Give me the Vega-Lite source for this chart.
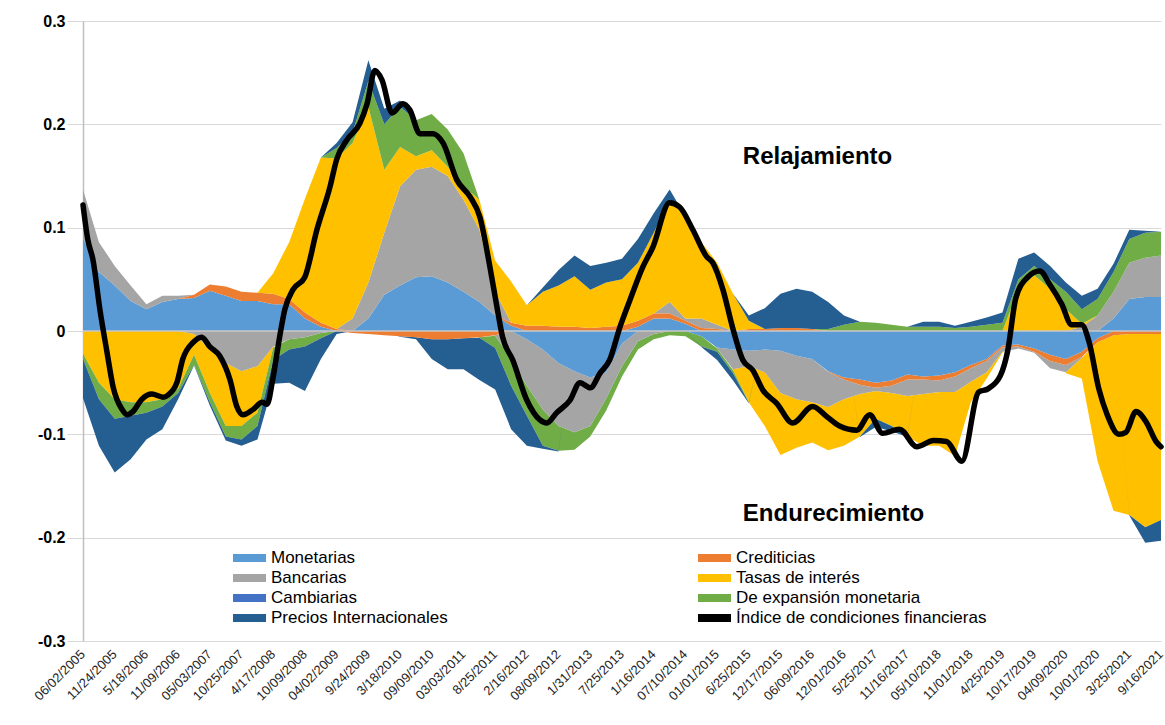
{
"$schema": "https://vega.github.io/schema/vega-lite/v6.json",
"width": 1078, "height": 620,
"autosize": {"type": "none"},
"padding": {"left": 83, "top": 21, "right": 4, "bottom": 84},
"background": "white",
"config": {"font": "Liberation Sans", "view": {"stroke": null}},
"datasets": {
"series": [{"s":"M","serie":"Monetarias","o":1},{"s":"C","serie":"Crediticias","o":2},{"s":"B","serie":"Bancarias","o":3},{"s":"T","serie":"Tasas de interés","o":4},{"s":"K","serie":"Cambiarias","o":5},{"s":"E","serie":"De expansión monetaria","o":6},{"s":"P","serie":"Precios Internacionales","o":7}],
"etiquetas": [{"d":"2005-06-02","t":"06/02/2005"},{"d":"2005-11-24","t":"11/24/2005"},{"d":"2006-05-18","t":"5/18/2006"},{"d":"2006-11-09","t":"11/09/2006"},{"d":"2007-05-03","t":"05/03/2007"},{"d":"2007-10-25","t":"10/25/2007"},{"d":"2008-04-17","t":"4/17/2008"},{"d":"2008-10-09","t":"10/09/2008"},{"d":"2009-04-02","t":"04/02/2009"},{"d":"2009-09-24","t":"9/24/2009"},{"d":"2010-03-18","t":"3/18/2010"},{"d":"2010-09-09","t":"09/09/2010"},{"d":"2011-03-03","t":"03/03/2011"},{"d":"2011-08-25","t":"8/25/2011"},{"d":"2012-02-16","t":"2/16/2012"},{"d":"2012-08-09","t":"08/09/2012"},{"d":"2013-01-31","t":"1/31/2013"},{"d":"2013-07-25","t":"7/25/2013"},{"d":"2014-01-16","t":"1/16/2014"},{"d":"2014-07-10","t":"07/10/2014"},{"d":"2015-01-01","t":"01/01/2015"},{"d":"2015-06-25","t":"6/25/2015"},{"d":"2015-12-17","t":"12/17/2015"},{"d":"2016-06-09","t":"06/09/2016"},{"d":"2016-12-01","t":"12/01/2016"},{"d":"2017-05-25","t":"5/25/2017"},{"d":"2017-11-16","t":"11/16/2017"},{"d":"2018-05-10","t":"05/10/2018"},{"d":"2018-11-01","t":"11/01/2018"},{"d":"2019-04-25","t":"4/25/2019"},{"d":"2019-10-17","t":"10/17/2019"},{"d":"2020-04-09","t":"04/09/2020"},{"d":"2020-10-01","t":"10/01/2020"},{"d":"2021-03-25","t":"3/25/2021"},{"d":"2021-09-16","t":"9/16/2021"}],
"comp": [
{"d":"2005-06-02","s":"M","v":0.09},{"d":"2005-06-02","s":"B","v":0.047},{"d":"2005-06-02","s":"T","v":-0.022},{"d":"2005-06-02","s":"E","v":-0.005},{"d":"2005-06-02","s":"P","v":-0.038},
{"d":"2005-08-29","s":"M","v":0.057},{"d":"2005-08-29","s":"B","v":0.029},{"d":"2005-08-29","s":"T","v":-0.05},{"d":"2005-08-29","s":"E","v":-0.016},{"d":"2005-08-29","s":"P","v":-0.045},
{"d":"2005-11-24","s":"M","v":0.044},{"d":"2005-11-24","s":"B","v":0.019},{"d":"2005-11-24","s":"T","v":-0.066},{"d":"2005-11-24","s":"E","v":-0.019},{"d":"2005-11-24","s":"P","v":-0.052},
{"d":"2006-02-20","s":"M","v":0.029},{"d":"2006-02-20","s":"B","v":0.015},{"d":"2006-02-20","s":"T","v":-0.069},{"d":"2006-02-20","s":"E","v":-0.013},{"d":"2006-02-20","s":"P","v":-0.042},
{"d":"2006-05-18","s":"M","v":0.021},{"d":"2006-05-18","s":"B","v":0.005},{"d":"2006-05-18","s":"T","v":-0.069},{"d":"2006-05-18","s":"E","v":-0.01},{"d":"2006-05-18","s":"P","v":-0.026},
{"d":"2006-08-14","s":"M","v":0.028},{"d":"2006-08-14","s":"B","v":0.006},{"d":"2006-08-14","s":"T","v":-0.066},{"d":"2006-08-14","s":"E","v":-0.007},{"d":"2006-08-14","s":"P","v":-0.022},
{"d":"2006-11-09","s":"M","v":0.031},{"d":"2006-11-09","s":"B","v":0.003},{"d":"2006-11-09","s":"T","v":-0.056},{"d":"2006-11-09","s":"E","v":-0.004},{"d":"2006-11-09","s":"P","v":-0.006},
{"d":"2007-02-05","s":"M","v":0.032},{"d":"2007-02-05","s":"C","v":0.003},{"d":"2007-02-05","s":"B","v":-0.003},{"d":"2007-02-05","s":"T","v":-0.02},{"d":"2007-02-05","s":"E","v":-0.01},{"d":"2007-02-05","s":"P","v":-0.0005},
{"d":"2007-05-03","s":"M","v":0.039},{"d":"2007-05-03","s":"C","v":0.006},{"d":"2007-05-03","s":"B","v":-0.018},{"d":"2007-05-03","s":"T","v":-0.042},{"d":"2007-05-03","s":"E","v":-0.009},{"d":"2007-05-03","s":"P","v":-0.003},
{"d":"2007-07-30","s":"M","v":0.034},{"d":"2007-07-30","s":"C","v":0.009},{"d":"2007-07-30","s":"B","v":-0.031},{"d":"2007-07-30","s":"T","v":-0.061},{"d":"2007-07-30","s":"E","v":-0.01},{"d":"2007-07-30","s":"P","v":-0.004},
{"d":"2007-10-25","s":"M","v":0.029},{"d":"2007-10-25","s":"C","v":0.009},{"d":"2007-10-25","s":"B","v":-0.039},{"d":"2007-10-25","s":"T","v":-0.053},{"d":"2007-10-25","s":"E","v":-0.013},{"d":"2007-10-25","s":"P","v":-0.006},
{"d":"2008-01-21","s":"M","v":0.029},{"d":"2008-01-21","s":"C","v":0.008},{"d":"2008-01-21","s":"B","v":-0.034},{"d":"2008-01-21","s":"T","v":-0.045},{"d":"2008-01-21","s":"E","v":-0.013},{"d":"2008-01-21","s":"P","v":-0.013},
{"d":"2008-04-17","s":"M","v":0.026},{"d":"2008-04-17","s":"C","v":0.01},{"d":"2008-04-17","s":"T","v":0.02},{"d":"2008-04-17","s":"B","v":-0.015},{"d":"2008-04-17","s":"T","v":-0.001},{"d":"2008-04-17","s":"E","v":-0.012},{"d":"2008-04-17","s":"P","v":-0.023},
{"d":"2008-07-14","s":"M","v":0.026},{"d":"2008-07-14","s":"C","v":0.005},{"d":"2008-07-14","s":"T","v":0.055},{"d":"2008-07-14","s":"B","v":-0.008},{"d":"2008-07-14","s":"E","v":-0.01},{"d":"2008-07-14","s":"P","v":-0.032},
{"d":"2008-10-09","s":"M","v":0.012},{"d":"2008-10-09","s":"C","v":0.006},{"d":"2008-10-09","s":"T","v":0.11},{"d":"2008-10-09","s":"B","v":-0.006},{"d":"2008-10-09","s":"E","v":-0.009},{"d":"2008-10-09","s":"P","v":-0.043},
{"d":"2009-01-05","s":"M","v":0.004},{"d":"2009-01-05","s":"C","v":0.004},{"d":"2009-01-05","s":"T","v":0.16},{"d":"2009-01-05","s":"B","v":-0.002},{"d":"2009-01-05","s":"E","v":-0.005},{"d":"2009-01-05","s":"P","v":-0.02},
{"d":"2009-04-02","s":"C","v":0.002},{"d":"2009-04-02","s":"T","v":0.165},{"d":"2009-04-02","s":"E","v":0.01},{"d":"2009-04-02","s":"P","v":0.005},{"d":"2009-04-02","s":"P","v":-0.003},
{"d":"2009-06-29","s":"B","v":0.012},{"d":"2009-06-29","s":"T","v":0.17},{"d":"2009-06-29","s":"E","v":0.01},{"d":"2009-06-29","s":"P","v":0.01},{"d":"2009-06-29","s":"C","v":-0.002},
{"d":"2009-09-24","s":"M","v":0.012},{"d":"2009-09-24","s":"B","v":0.035},{"d":"2009-09-24","s":"T","v":0.17},{"d":"2009-09-24","s":"E","v":0.025},{"d":"2009-09-24","s":"P","v":0.02},{"d":"2009-09-24","s":"C","v":-0.003},
{"d":"2009-12-21","s":"M","v":0.035},{"d":"2009-12-21","s":"B","v":0.06},{"d":"2009-12-21","s":"T","v":0.061},{"d":"2009-12-21","s":"E","v":0.044},{"d":"2009-12-21","s":"P","v":0.015},{"d":"2009-12-21","s":"C","v":-0.004},
{"d":"2010-03-18","s":"M","v":0.044},{"d":"2010-03-18","s":"B","v":0.096},{"d":"2010-03-18","s":"T","v":0.038},{"d":"2010-03-18","s":"E","v":0.039},{"d":"2010-03-18","s":"P","v":0.006},{"d":"2010-03-18","s":"C","v":-0.005},{"d":"2010-03-18","s":"P","v":-0.0005},
{"d":"2010-06-14","s":"M","v":0.052},{"d":"2010-06-14","s":"B","v":0.104},{"d":"2010-06-14","s":"T","v":0.013},{"d":"2010-06-14","s":"E","v":0.035},{"d":"2010-06-14","s":"C","v":-0.006},{"d":"2010-06-14","s":"P","v":-0.002},
{"d":"2010-09-09","s":"M","v":0.053},{"d":"2010-09-09","s":"B","v":0.106},{"d":"2010-09-09","s":"T","v":0.016},{"d":"2010-09-09","s":"E","v":0.035},{"d":"2010-09-09","s":"C","v":-0.008},{"d":"2010-09-09","s":"P","v":-0.019},
{"d":"2010-12-06","s":"M","v":0.047},{"d":"2010-12-06","s":"B","v":0.103},{"d":"2010-12-06","s":"T","v":0.009},{"d":"2010-12-06","s":"E","v":0.036},{"d":"2010-12-06","s":"C","v":-0.008},{"d":"2010-12-06","s":"P","v":-0.029},
{"d":"2011-03-03","s":"M","v":0.038},{"d":"2011-03-03","s":"B","v":0.089},{"d":"2011-03-03","s":"T","v":0.013},{"d":"2011-03-03","s":"E","v":0.032},{"d":"2011-03-03","s":"C","v":-0.007},{"d":"2011-03-03","s":"P","v":-0.03},
{"d":"2011-05-30","s":"M","v":0.028},{"d":"2011-05-30","s":"B","v":0.07},{"d":"2011-05-30","s":"T","v":0.029},{"d":"2011-05-30","s":"C","v":-0.006},{"d":"2011-05-30","s":"E","v":-0.0005},{"d":"2011-05-30","s":"P","v":-0.041},
{"d":"2011-08-25","s":"M","v":0.015},{"d":"2011-08-25","s":"B","v":0.023},{"d":"2011-08-25","s":"T","v":0.03},{"d":"2011-08-25","s":"C","v":-0.004},{"d":"2011-08-25","s":"B","v":-0.0005},{"d":"2011-08-25","s":"E","v":-0.012},{"d":"2011-08-25","s":"P","v":-0.04},
{"d":"2011-11-21","s":"M","v":0.005},{"d":"2011-11-21","s":"C","v":0.003},{"d":"2011-11-21","s":"T","v":0.04},{"d":"2011-11-21","s":"B","v":-0.027},{"d":"2011-11-21","s":"E","v":-0.026},{"d":"2011-11-21","s":"P","v":-0.042},
{"d":"2012-02-16","s":"C","v":0.005},{"d":"2012-02-16","s":"T","v":0.02},{"d":"2012-02-16","s":"M","v":-0.008},{"d":"2012-02-16","s":"B","v":-0.045},{"d":"2012-02-16","s":"E","v":-0.029},{"d":"2012-02-16","s":"P","v":-0.029},
{"d":"2012-05-14","s":"C","v":0.005},{"d":"2012-05-14","s":"T","v":0.033},{"d":"2012-05-14","s":"P","v":0.004},{"d":"2012-05-14","s":"M","v":-0.018},{"d":"2012-05-14","s":"B","v":-0.058},{"d":"2012-05-14","s":"E","v":-0.035},{"d":"2012-05-14","s":"P","v":-0.003},
{"d":"2012-08-09","s":"C","v":0.004},{"d":"2012-08-09","s":"T","v":0.04},{"d":"2012-08-09","s":"P","v":0.015},{"d":"2012-08-09","s":"M","v":-0.031},{"d":"2012-08-09","s":"B","v":-0.061},{"d":"2012-08-09","s":"E","v":-0.024},{"d":"2012-08-09","s":"P","v":-0.0005},
{"d":"2012-11-05","s":"C","v":0.004},{"d":"2012-11-05","s":"T","v":0.049},{"d":"2012-11-05","s":"P","v":0.02},{"d":"2012-11-05","s":"M","v":-0.039},{"d":"2012-11-05","s":"B","v":-0.059},{"d":"2012-11-05","s":"E","v":-0.017},
{"d":"2013-01-31","s":"C","v":0.003},{"d":"2013-01-31","s":"T","v":0.037},{"d":"2013-01-31","s":"P","v":0.023},{"d":"2013-01-31","s":"M","v":-0.045},{"d":"2013-01-31","s":"B","v":-0.047},{"d":"2013-01-31","s":"E","v":-0.01},
{"d":"2013-04-29","s":"C","v":0.004},{"d":"2013-04-29","s":"T","v":0.043},{"d":"2013-04-29","s":"P","v":0.019},{"d":"2013-04-29","s":"M","v":-0.04},{"d":"2013-04-29","s":"B","v":-0.025},{"d":"2013-04-29","s":"E","v":-0.012},
{"d":"2013-07-25","s":"C","v":0.005},{"d":"2013-07-25","s":"T","v":0.045},{"d":"2013-07-25","s":"P","v":0.02},{"d":"2013-07-25","s":"M","v":-0.012},{"d":"2013-07-25","s":"B","v":-0.022},{"d":"2013-07-25","s":"E","v":-0.01},
{"d":"2013-10-21","s":"M","v":0.004},{"d":"2013-10-21","s":"C","v":0.006},{"d":"2013-10-21","s":"T","v":0.056},{"d":"2013-10-21","s":"P","v":0.023},{"d":"2013-10-21","s":"B","v":-0.01},{"d":"2013-10-21","s":"E","v":-0.008},
{"d":"2014-01-16","s":"M","v":0.012},{"d":"2014-01-16","s":"C","v":0.005},{"d":"2014-01-16","s":"T","v":0.078},{"d":"2014-01-16","s":"P","v":0.019},{"d":"2014-01-16","s":"B","v":-0.003},{"d":"2014-01-16","s":"E","v":-0.005},
{"d":"2014-04-14","s":"M","v":0.012},{"d":"2014-04-14","s":"C","v":0.005},{"d":"2014-04-14","s":"B","v":0.011},{"d":"2014-04-14","s":"T","v":0.099},{"d":"2014-04-14","s":"P","v":0.01},{"d":"2014-04-14","s":"E","v":-0.004},
{"d":"2014-07-10","s":"M","v":0.007},{"d":"2014-07-10","s":"C","v":0.003},{"d":"2014-07-10","s":"B","v":0.002},{"d":"2014-07-10","s":"T","v":0.099},{"d":"2014-07-10","s":"E","v":-0.005},
{"d":"2014-10-06","s":"C","v":0.003},{"d":"2014-10-06","s":"B","v":0.009},{"d":"2014-10-06","s":"T","v":0.074},{"d":"2014-10-06","s":"M","v":-0.005},{"d":"2014-10-06","s":"E","v":-0.01},{"d":"2014-10-06","s":"P","v":-0.0005},
{"d":"2015-01-01","s":"C","v":0.002},{"d":"2015-01-01","s":"B","v":0.004},{"d":"2015-01-01","s":"T","v":0.06},{"d":"2015-01-01","s":"M","v":-0.016},{"d":"2015-01-01","s":"B","v":-0.001},{"d":"2015-01-01","s":"E","v":-0.003},{"d":"2015-01-01","s":"P","v":-0.008},
{"d":"2015-03-30","s":"T","v":0.036},{"d":"2015-03-30","s":"M","v":-0.018},{"d":"2015-03-30","s":"B","v":-0.019},{"d":"2015-03-30","s":"T","v":-0.001},{"d":"2015-03-30","s":"E","v":-0.003},{"d":"2015-03-30","s":"P","v":-0.007},
{"d":"2015-06-25","s":"C","v":0.002},{"d":"2015-06-25","s":"T","v":0.008},{"d":"2015-06-25","s":"P","v":0.005},{"d":"2015-06-25","s":"M","v":-0.019},{"d":"2015-06-25","s":"B","v":-0.015},{"d":"2015-06-25","s":"T","v":-0.035},{"d":"2015-06-25","s":"E","v":-0.0005},{"d":"2015-06-25","s":"P","v":-0.0005},
{"d":"2015-09-21","s":"C","v":0.002},{"d":"2015-09-21","s":"P","v":0.02},{"d":"2015-09-21","s":"M","v":-0.018},{"d":"2015-09-21","s":"B","v":-0.022},{"d":"2015-09-21","s":"T","v":-0.052},
{"d":"2015-12-17","s":"C","v":0.003},{"d":"2015-12-17","s":"P","v":0.033},{"d":"2015-12-17","s":"M","v":-0.019},{"d":"2015-12-17","s":"B","v":-0.041},{"d":"2015-12-17","s":"T","v":-0.06},
{"d":"2016-03-14","s":"C","v":0.003},{"d":"2016-03-14","s":"P","v":0.038},{"d":"2016-03-14","s":"M","v":-0.024},{"d":"2016-03-14","s":"B","v":-0.042},{"d":"2016-03-14","s":"T","v":-0.047},
{"d":"2016-06-09","s":"C","v":0.002},{"d":"2016-06-09","s":"P","v":0.036},{"d":"2016-06-09","s":"M","v":-0.027},{"d":"2016-06-09","s":"B","v":-0.042},{"d":"2016-06-09","s":"T","v":-0.039},
{"d":"2016-09-05","s":"E","v":0.002},{"d":"2016-09-05","s":"P","v":0.026},{"d":"2016-09-05","s":"M","v":-0.039},{"d":"2016-09-05","s":"C","v":-0.0005},{"d":"2016-09-05","s":"B","v":-0.034},{"d":"2016-09-05","s":"T","v":-0.042},
{"d":"2016-12-01","s":"E","v":0.006},{"d":"2016-12-01","s":"P","v":0.009},{"d":"2016-12-01","s":"M","v":-0.045},{"d":"2016-12-01","s":"C","v":-0.002},{"d":"2016-12-01","s":"B","v":-0.019},{"d":"2016-12-01","s":"T","v":-0.045},
{"d":"2017-02-27","s":"E","v":0.009},{"d":"2017-02-27","s":"M","v":-0.047},{"d":"2017-02-27","s":"C","v":-0.005},{"d":"2017-02-27","s":"B","v":-0.009},{"d":"2017-02-27","s":"T","v":-0.041},{"d":"2017-02-27","s":"P","v":-0.0005},
{"d":"2017-05-25","s":"E","v":0.008},{"d":"2017-05-25","s":"M","v":-0.05},{"d":"2017-05-25","s":"C","v":-0.005},{"d":"2017-05-25","s":"B","v":-0.003},{"d":"2017-05-25","s":"T","v":-0.027},{"d":"2017-05-25","s":"P","v":-0.008},
{"d":"2017-08-21","s":"E","v":0.006},{"d":"2017-08-21","s":"M","v":-0.048},{"d":"2017-08-21","s":"C","v":-0.005},{"d":"2017-08-21","s":"B","v":-0.007},{"d":"2017-08-21","s":"T","v":-0.032},{"d":"2017-08-21","s":"P","v":-0.005},
{"d":"2017-11-16","s":"E","v":0.004},{"d":"2017-11-16","s":"M","v":-0.042},{"d":"2017-11-16","s":"C","v":-0.005},{"d":"2017-11-16","s":"B","v":-0.016},{"d":"2017-11-16","s":"T","v":-0.039},{"d":"2017-11-16","s":"P","v":-0.0005},
{"d":"2018-02-12","s":"E","v":0.004},{"d":"2018-02-12","s":"P","v":0.005},{"d":"2018-02-12","s":"M","v":-0.044},{"d":"2018-02-12","s":"C","v":-0.003},{"d":"2018-02-12","s":"B","v":-0.014},{"d":"2018-02-12","s":"T","v":-0.05},
{"d":"2018-05-10","s":"E","v":0.004},{"d":"2018-05-10","s":"P","v":0.005},{"d":"2018-05-10","s":"M","v":-0.043},{"d":"2018-05-10","s":"C","v":-0.005},{"d":"2018-05-10","s":"B","v":-0.011},{"d":"2018-05-10","s":"T","v":-0.052},
{"d":"2018-08-06","s":"E","v":0.003},{"d":"2018-08-06","s":"P","v":0.002},{"d":"2018-08-06","s":"M","v":-0.04},{"d":"2018-08-06","s":"C","v":-0.004},{"d":"2018-08-06","s":"B","v":-0.015},{"d":"2018-08-06","s":"T","v":-0.062},
{"d":"2018-11-01","s":"E","v":0.004},{"d":"2018-11-01","s":"P","v":0.005},{"d":"2018-11-01","s":"M","v":-0.033},{"d":"2018-11-01","s":"C","v":-0.003},{"d":"2018-11-01","s":"B","v":-0.013},{"d":"2018-11-01","s":"T","v":-0.02},
{"d":"2019-01-28","s":"E","v":0.006},{"d":"2019-01-28","s":"P","v":0.007},{"d":"2019-01-28","s":"M","v":-0.027},{"d":"2019-01-28","s":"C","v":-0.002},{"d":"2019-01-28","s":"B","v":-0.011},{"d":"2019-01-28","s":"T","v":-0.006},
{"d":"2019-04-25","s":"E","v":0.008},{"d":"2019-04-25","s":"P","v":0.01},{"d":"2019-04-25","s":"M","v":-0.014},{"d":"2019-04-25","s":"C","v":-0.002},{"d":"2019-04-25","s":"B","v":-0.004},{"d":"2019-04-25","s":"T","v":-0.001},
{"d":"2019-07-22","s":"T","v":0.04},{"d":"2019-07-22","s":"E","v":0.01},{"d":"2019-07-22","s":"P","v":0.02},{"d":"2019-07-22","s":"M","v":-0.013},{"d":"2019-07-22","s":"C","v":-0.002},{"d":"2019-07-22","s":"B","v":-0.002},
{"d":"2019-10-17","s":"T","v":0.054},{"d":"2019-10-17","s":"E","v":0.009},{"d":"2019-10-17","s":"P","v":0.013},{"d":"2019-10-17","s":"M","v":-0.017},{"d":"2019-10-17","s":"C","v":-0.003},{"d":"2019-10-17","s":"B","v":-0.001},
{"d":"2020-01-13","s":"T","v":0.041},{"d":"2020-01-13","s":"E","v":0.009},{"d":"2020-01-13","s":"P","v":0.013},{"d":"2020-01-13","s":"M","v":-0.023},{"d":"2020-01-13","s":"C","v":-0.006},{"d":"2020-01-13","s":"B","v":-0.007},
{"d":"2020-04-09","s":"T","v":0.021},{"d":"2020-04-09","s":"E","v":0.017},{"d":"2020-04-09","s":"P","v":0.009},{"d":"2020-04-09","s":"M","v":-0.027},{"d":"2020-04-09","s":"C","v":-0.006},{"d":"2020-04-09","s":"B","v":-0.007},{"d":"2020-04-09","s":"T","v":-0.001},
{"d":"2020-07-06","s":"B","v":0.004},{"d":"2020-07-06","s":"T","v":0.003},{"d":"2020-07-06","s":"E","v":0.014},{"d":"2020-07-06","s":"P","v":0.013},{"d":"2020-07-06","s":"M","v":-0.02},{"d":"2020-07-06","s":"C","v":-0.005},{"d":"2020-07-06","s":"B","v":-0.001},{"d":"2020-07-06","s":"T","v":-0.02},
{"d":"2020-10-01","s":"B","v":0.015},{"d":"2020-10-01","s":"E","v":0.016},{"d":"2020-10-01","s":"P","v":0.01},{"d":"2020-10-01","s":"M","v":-0.007},{"d":"2020-10-01","s":"C","v":-0.004},{"d":"2020-10-01","s":"T","v":-0.115},
{"d":"2020-12-28","s":"M","v":0.012},{"d":"2020-12-28","s":"B","v":0.026},{"d":"2020-12-28","s":"E","v":0.019},{"d":"2020-12-28","s":"P","v":0.008},{"d":"2020-12-28","s":"C","v":-0.004},{"d":"2020-12-28","s":"T","v":-0.17},
{"d":"2021-03-25","s":"M","v":0.031},{"d":"2021-03-25","s":"B","v":0.035},{"d":"2021-03-25","s":"E","v":0.023},{"d":"2021-03-25","s":"P","v":0.009},{"d":"2021-03-25","s":"C","v":-0.003},{"d":"2021-03-25","s":"T","v":-0.175},{"d":"2021-03-25","s":"P","v":-0.0005},
{"d":"2021-06-21","s":"M","v":0.033},{"d":"2021-06-21","s":"B","v":0.038},{"d":"2021-06-21","s":"E","v":0.024},{"d":"2021-06-21","s":"P","v":0.002},{"d":"2021-06-21","s":"C","v":-0.003},{"d":"2021-06-21","s":"T","v":-0.187},{"d":"2021-06-21","s":"P","v":-0.015},
{"d":"2021-09-16","s":"M","v":0.033},{"d":"2021-09-16","s":"B","v":0.04},{"d":"2021-09-16","s":"E","v":0.023},{"d":"2021-09-16","s":"C","v":-0.003},{"d":"2021-09-16","s":"T","v":-0.18},{"d":"2021-09-16","s":"P","v":-0.02}
],
"indice": [
{"d":"2005-06-02","v":0.122},{"d":"2005-06-29","v":0.088},{"d":"2005-07-27","v":0.069},{"d":"2005-09-04","v":0.02},{"d":"2005-10-13","v":-0.021},{"d":"2005-11-15","v":-0.054},{"d":"2006-01-04","v":-0.076},{"d":"2006-02-01","v":-0.081},{"d":"2006-03-04","v":-0.078},{"d":"2006-04-23","v":-0.066},{"d":"2006-06-17","v":-0.061},{"d":"2006-08-17","v":-0.064},{"d":"2006-09-14","v":-0.062},{"d":"2006-11-02","v":-0.05},{"d":"2006-12-05","v":-0.027},{"d":"2007-01-31","v":-0.011},{"d":"2007-03-20","v":-0.006},{"d":"2007-05-02","v":-0.015},{"d":"2007-06-26","v":-0.024},{"d":"2007-08-22","v":-0.047},{"d":"2007-09-29","v":-0.073},{"d":"2007-11-02","v":-0.081},{"d":"2007-12-27","v":-0.076},{"d":"2008-02-16","v":-0.069},{"d":"2008-03-14","v":-0.071},{"d":"2008-04-14","v":-0.047},{"d":"2008-05-23","v":-0.005},{"d":"2008-06-20","v":0.021},{"d":"2008-08-04","v":0.04},{"d":"2008-10-08","v":0.052},{"d":"2008-12-14","v":0.098},{"d":"2009-02-25","v":0.14},{"d":"2009-04-02","v":0.166},{"d":"2009-05-29","v":0.185},{"d":"2009-08-08","v":0.201},{"d":"2009-09-17","v":0.22},{"d":"2009-10-30","v":0.252},{"d":"2009-12-08","v":0.243},{"d":"2010-02-02","v":0.211},{"d":"2010-04-02","v":0.22},{"d":"2010-05-11","v":0.214},{"d":"2010-07-05","v":0.191},{"d":"2010-09-16","v":0.191},{"d":"2010-11-10","v":0.182},{"d":"2011-01-26","v":0.146},{"d":"2011-04-08","v":0.13},{"d":"2011-06-02","v":0.11},{"d":"2011-07-27","v":0.062},{"d":"2011-09-04","v":0.023},{"d":"2011-10-05","v":-0.006},{"d":"2011-11-30","v":-0.028},{"d":"2012-02-16","v":-0.067},{"d":"2012-04-28","v":-0.086},{"d":"2012-06-05","v":-0.089},{"d":"2012-07-30","v":-0.079},{"d":"2012-10-11","v":-0.067},{"d":"2012-12-05","v":-0.05},{"d":"2013-01-31","v":-0.055},{"d":"2013-03-25","v":-0.041},{"d":"2013-05-18","v":-0.028},{"d":"2013-07-14","v":0.004},{"d":"2013-09-07","v":0.03},{"d":"2013-11-17","v":0.062},{"d":"2014-01-11","v":0.081},{"d":"2014-04-14","v":0.124},{"d":"2014-06-08","v":0.12},{"d":"2014-08-20","v":0.098},{"d":"2014-11-04","v":0.072},{"d":"2014-12-08","v":0.066},{"d":"2015-02-02","v":0.04},{"d":"2015-03-28","v":0.003},{"d":"2015-05-23","v":-0.028},{"d":"2015-07-17","v":-0.038},{"d":"2015-09-10","v":-0.057},{"d":"2015-11-26","v":-0.07},{"d":"2016-02-22","v":-0.089},{"d":"2016-06-11","v":-0.073},{"d":"2016-08-29","v":-0.083},{"d":"2016-11-07","v":-0.092},{"d":"2017-02-10","v":-0.096},{"d":"2017-04-22","v":-0.081},{"d":"2017-07-02","v":-0.099},{"d":"2017-10-04","v":-0.095},{"d":"2018-01-07","v":-0.112},{"d":"2018-04-10","v":-0.106},{"d":"2018-06-20","v":-0.107},{"d":"2018-09-13","v":-0.126},{"d":"2018-12-15","v":-0.059},{"d":"2019-02-04","v":-0.056},{"d":"2019-04-14","v":-0.043},{"d":"2019-05-23","v":-0.02},{"d":"2019-07-08","v":0.032},{"d":"2019-09-11","v":0.052},{"d":"2019-11-17","v":0.058},{"d":"2020-01-11","v":0.045},{"d":"2020-03-17","v":0.026},{"d":"2020-05-11","v":0.006},{"d":"2020-07-05","v":0.006},{"d":"2020-08-14","v":-0.01},{"d":"2020-10-08","v":-0.056},{"d":"2020-11-23","v":-0.081},{"d":"2021-01-27","v":-0.1},{"d":"2021-03-06","v":-0.098},{"d":"2021-05-01","v":-0.078},{"d":"2021-06-26","v":-0.088},{"d":"2021-08-20","v":-0.107},{"d":"2021-09-16","v":-0.112}
]
},
"layer": [
{
"data": {"name": "comp"},
"transform": [
{"lookup": "s", "from": {"data": {"name": "series"}, "key": "s", "fields": ["serie", "o"]}},
{"filter": "datum.v > 0"}
],
"mark": {"type": "area", "opacity": 1, "interpolate": "linear"},
"encoding": {
"x": {"field": "d", "type": "temporal", "title": null,
 "scale": {"type": "utc", "domain": [{"year":2005,"month":6,"date":2,"utc":true},{"year":2021,"month":9,"date":16,"utc":true}]},
 "axis": {"title": null, "grid": false, "ticks": false, "domain": false, "labels": false}},
"y": {"field": "v", "type": "quantitative", "stack": "zero", "title": null,
 "scale": {"domain": [-0.3, 0.3], "nice": false, "zero": false},
 "axis": {"title": null, "values": [-0.3,-0.2,-0.1,0,0.1,0.2,0.3], "grid": true, "gridColor": "#D9D9D9", "gridWidth": 1, "domain": true, "domainColor": "#BFBFBF", "domainWidth": 1.5, "tickSize": 16, "tickColor": "#D9D9D9", "labelPadding": 2, "labelFontSize": 16, "labelFontWeight": "bold", "labelColor": "#000000",
  "labelExpr": "datum.value == 0 ? '0' : (datum.value < 0 ? '-' + format(-datum.value, '.1f') : format(datum.value, '.1f'))"}},
"color": {"field": "serie", "type": "nominal",
 "scale": {"domain": ["Monetarias","Crediticias","Bancarias","Tasas de interés","Cambiarias","De expansión monetaria","Precios Internacionales","Índice de condiciones financieras"],
  "range": ["#5B9BD5","#ED7D31","#A5A5A5","#FFC000","#4472C4","#70AD47","#255E91","#000000"]},
 "legend": {"orient": "none", "legendX": 150, "legendY": 527, "title": null, "direction": "horizontal", "columns": 2, "columnPadding": 250, "rowPadding": 0, "clipHeight": 20, "symbolType": "M-1,-0.24H1V0.24H-1Z", "symbolSize": 1089, "symbolStrokeWidth": 0, "labelFontSize": 17, "labelColor": "#000000", "labelLimit": 400, "labelOffset": 5, "padding": 0}},
"detail": {"field": "o"},
"order": {"field": "o", "type": "quantitative"}
}
},
{
"data": {"name": "comp"},
"transform": [
{"lookup": "s", "from": {"data": {"name": "series"}, "key": "s", "fields": ["serie", "o"]}},
{"filter": "datum.v < 0"}
],
"mark": {"type": "area", "opacity": 1, "interpolate": "linear"},
"encoding": {
"x": {"field": "d", "type": "temporal", "title": null},
"y": {"field": "v", "type": "quantitative", "stack": "zero", "title": null},
"color": {"field": "serie", "type": "nominal"},
"detail": {"field": "o"},
"order": {"field": "o", "type": "quantitative"}
}
},
{
"data": {"values": [{"v": 0}]},
"mark": {"type": "rule", "color": "#C8C8C8", "strokeWidth": 1.5},
"encoding": {"y": {"field": "v", "type": "quantitative", "title": null}}
},
{
"data": {"name": "indice"},
"mark": {"type": "line", "strokeWidth": 5.5, "interpolate": "monotone", "strokeCap": "round", "strokeJoin": "round"},
"encoding": {
"x": {"field": "d", "type": "temporal", "title": null},
"y": {"field": "v", "type": "quantitative", "title": null},
"color": {"datum": "Índice de condiciones financieras"}
}
},
{
"data": {"values": [{"d": "2015-05-23", "v": 0.168, "t": "Relajamiento"}, {"d": "2015-05-23", "v": -0.177, "t": "Endurecimiento"}]},
"mark": {"type": "text", "align": "left", "baseline": "middle", "fontSize": 24, "fontWeight": "bold", "color": "#000000"},
"encoding": {
"x": {"field": "d", "type": "temporal", "title": null},
"y": {"field": "v", "type": "quantitative", "title": null},
"text": {"field": "t"}
}
},
{
"data": {"name": "etiquetas"},
"mark": {"type": "text", "angle": 315, "align": "right", "baseline": "middle", "fontSize": 13, "color": "#262626", "dx": -8, "dy": 8},
"encoding": {
"x": {"field": "d", "type": "temporal", "title": null},
"y": {"datum": -0.3},
"text": {"field": "t"}
}
}
]
}
